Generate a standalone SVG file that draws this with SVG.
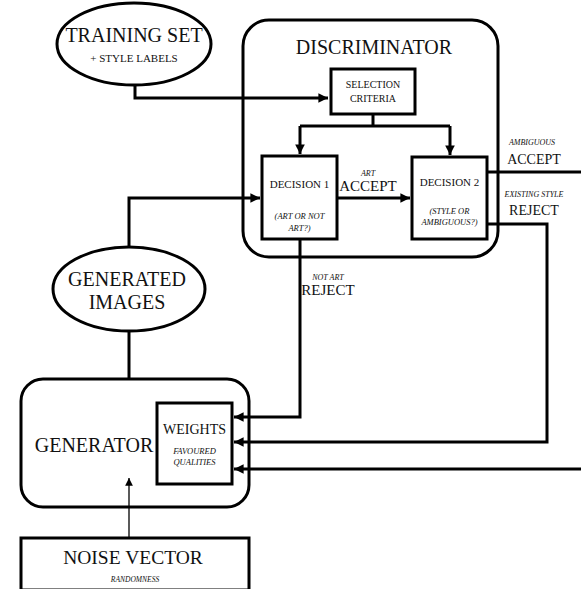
<svg xmlns="http://www.w3.org/2000/svg" width="581" height="589" viewBox="0 0 581 589">
<style>
  .shape{fill:#fff;stroke:#000;stroke-width:3}
  .wire{fill:none;stroke:#000;stroke-width:3}
  .thin{fill:none;stroke:#000;stroke-width:1.3}
  text{font-family:'Liberation Serif','Times New Roman',serif;fill:#111;text-anchor:middle}
  .it{font-style:italic}
</style>
<defs>
  <marker id="ah" viewBox="0 0 10 10" refX="10" refY="5" markerWidth="3.6" markerHeight="3.2" markerUnits="strokeWidth" orient="auto">
    <path d="M0,0 L10,5 L0,10 z" fill="#000"/>
  </marker>
  <marker id="ahs" viewBox="0 0 10 10" refX="10" refY="5" markerWidth="6" markerHeight="6" markerUnits="strokeWidth" orient="auto">
    <path d="M0,0 L10,5 L0,10 z" fill="#000"/>
  </marker>
</defs>
<rect width="581" height="589" fill="#fff"/>

<g id="discriminator">
  <rect class="shape" x="243" y="20" width="255" height="237" rx="26"/>
  <text x="374" y="54" font-size="20">DISCRIMINATOR</text>
</g>

<g id="generator">
  <rect class="shape" x="21" y="379" width="228" height="128" rx="22"/>
  <text x="94" y="452" font-size="20">GENERATOR</text>
</g>

<g id="connectors">
  <path class="wire" d="M135,85 V98 H328" marker-end="url(#ah)"/>
  <path class="wire" d="M373,114 V126"/>
  <path class="wire" d="M300,126 H450"/>
  <path class="wire" d="M300,126 V154" marker-end="url(#ah)"/>
  <path class="wire" d="M450,126 V155" marker-end="url(#ah)"/>
  <path class="wire" d="M337,198 H410" marker-end="url(#ah)"/>
  <path class="wire" d="M129,248 V198 H260" marker-end="url(#ah)"/>
  <path class="wire" d="M129,331 V379"/>
  <path class="wire" d="M487,172 H581"/>
  <path class="wire" d="M487,224 H547 V442 H234" marker-end="url(#ah)"/>
  <path class="wire" d="M300,239 V417 H234" marker-end="url(#ah)"/>
  <path class="wire" d="M581,469 H234" marker-end="url(#ah)"/>
  <path class="thin" d="M129,538 V478" marker-end="url(#ahs)"/>
</g>

<g id="training-set">
  <ellipse class="shape" cx="134" cy="44" rx="77" ry="41"/>
  <text x="134" y="42" font-size="20">TRAINING SET</text>
  <text x="134" y="62" font-size="11">+ STYLE LABELS</text>
</g>

<g id="selection-criteria">
  <rect class="shape" x="331" y="69" width="84" height="45"/>
  <text x="373" y="88" font-size="10">SELECTION</text>
  <text x="373" y="102" font-size="10">CRITERIA</text>
</g>

<g id="decision-1">
  <rect class="shape" x="262" y="156" width="75" height="83"/>
  <text x="299.5" y="188" font-size="11">DECISION 1</text>
  <text class="it" x="299.5" y="219" font-size="8.5">(ART OR NOT</text>
  <text class="it" x="299.5" y="231" font-size="8.5">ART?)</text>
</g>

<g id="decision-2">
  <rect class="shape" x="412" y="157" width="75" height="82"/>
  <text x="449.5" y="186" font-size="11">DECISION 2</text>
  <text class="it" x="449.5" y="214" font-size="8.5">(STYLE OR</text>
  <text class="it" x="449.5" y="225" font-size="8.5">AMBIGUOUS?)</text>
</g>

<g id="generated-images">
  <ellipse class="shape" cx="129" cy="289" rx="76" ry="42"/>
  <text x="127" y="286" font-size="20">GENERATED</text>
  <text x="127" y="309" font-size="20">IMAGES</text>
</g>

<g id="weights">
  <rect class="shape" x="157" y="403" width="75" height="81"/>
  <text x="194.5" y="434" font-size="14">WEIGHTS</text>
  <text class="it" x="194.5" y="454" font-size="8.5">FAVOURED</text>
  <text class="it" x="194.5" y="465" font-size="8.5">QUALITIES</text>
</g>

<g id="noise-vector">
  <rect class="shape" x="21" y="538" width="228" height="52"/>
  <text x="133" y="564" font-size="19.5">NOISE VECTOR</text>
  <text class="it" x="135" y="582" font-size="7.5">RANDOMNESS</text>
</g>

<g id="labels">
  <text class="it" x="368" y="176" font-size="8">ART</text>
  <text x="368" y="191" font-size="15">ACCEPT</text>
  <text class="it" x="532" y="145" font-size="8">AMBIGUOUS</text>
  <text x="534" y="164" font-size="14">ACCEPT</text>
  <text class="it" x="534" y="197" font-size="8">EXISTING STYLE</text>
  <text x="534" y="215" font-size="14">REJECT</text>
  <text class="it" x="328" y="280" font-size="8">NOT ART</text>
  <text x="328" y="295" font-size="15">REJECT</text>
</g>
</svg>
